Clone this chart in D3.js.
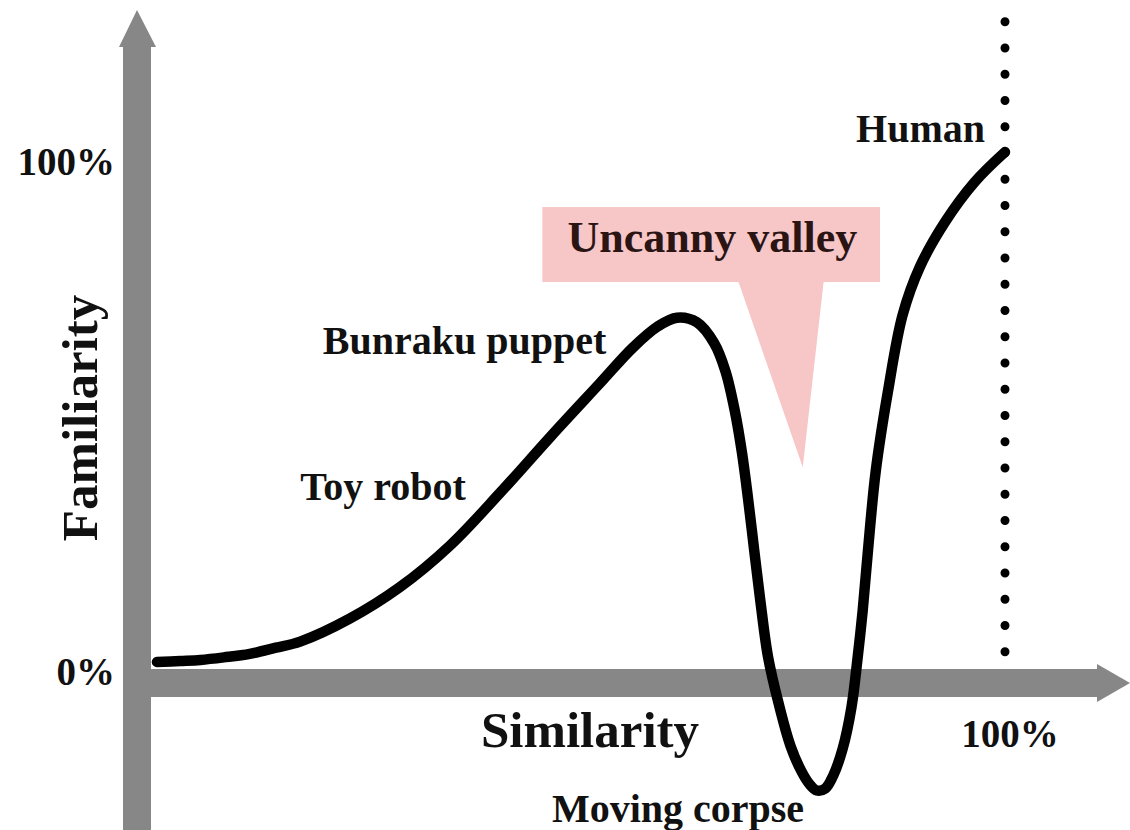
<!DOCTYPE html>
<html lang="en">
<head>
  <meta charset="UTF-8">
  <title>Uncanny valley</title>
  <style>
    body { margin: 0; background: #fff; }
    svg { display: block; }
    text { font-family: "Liberation Serif", "Times New Roman", serif; font-weight: bold; fill: #111; }
  </style>
</head>
<body>
  <svg width="1130" height="830"></svg>
  <script src="https://d3js.org/d3.v7.min.js"></script>
  <script>
    // similarity (%) vs familiarity (%)
    var similarity  = [2.3, 5.0, 7.3, 10.0, 13.0, 16.0, 18.8, 24.5, 30.3, 36.1, 41.9, 47.6, 53.3, 57.1, 60.0, 62.2, 64.5, 66.5, 67.8, 68.9, 69.7, 70.4, 71.1, 71.8, 72.7, 73.9, 75.3, 76.6, 77.5, 78.3, 79.3, 80.2, 81.3, 82.3, 83.0, 83.6, 84.2, 85.1, 86.5, 88.2, 90.2, 93.1, 96.5, 100];
    var familiarity = [0, 0.2, 0.4, 0.9, 1.6, 2.8, 4.0, 8.5, 14.7, 22.9, 33.3, 44.1, 54.6, 61.6, 65.8, 67.5, 66.6, 62.5, 57.0, 49.0, 41.0, 32.0, 22.0, 12.2, 1.0, -8.0, -16.5, -21.6, -24.0, -25.2, -24.8, -22.3, -17.0, -9.0, 0.5, 10.0, 21.6, 37.3, 52.9, 68.0, 77.5, 86.3, 94.1, 100];

    var yTicks = [0, 100], yTickLabels = ["0%", "100%"];
    var xTicks = [100], xTickLabels = ["100%"];

    var labelText = ["Toy robot", "Bunraku puppet", "Human", "Moving corpse"];
    var labelX    = [18.8, 21.4, 97.7, 47.8];
    var labelY    = [31.8, 60.4, 102.0, -31.4];

    var svg = d3.select("svg");

    var x = d3.scaleLinear().domain([0, 100]).range([137, 1005]),
        y = d3.scaleLinear().domain([0, 100]).range([662, 152]);

    var axisColor = "#878787";

    // y axis bar + arrow
    svg.append("rect")
      .attr("x", 123).attr("width", 28)
      .attr("y", 44).attr("height", 830 - 44)
      .attr("fill", axisColor);
    svg.append("path")
      .attr("d", "M137,10 L119,47 L156,47 Z")
      .attr("fill", axisColor);

    // x axis bar + arrow
    svg.append("rect")
      .attr("x", 123).attr("width", 1098 - 123)
      .attr("y", 669).attr("height", 28)
      .attr("fill", axisColor);
    svg.append("path")
      .attr("d", "M1130,683 L1097,664 L1097,702 Z")
      .attr("fill", axisColor);

    // callout
    var callout = svg.append("g").attr("fill", "#f7c6c6");
    callout.append("rect")
      .attr("x", x(46.7)).attr("y", y(89.2))
      .attr("width", x(85.6) - x(46.7))
      .attr("height", y(74.5) - y(89.2));
    callout.append("path")
      .attr("d", d3.line()([[x(69.3), y(74.5)], [x(79.1), y(74.5)], [x(76.7), y(38.2)]]) + "Z");
    svg.append("text")
      .attr("x", x(49.6)).attr("y", y(80.4))
      .style("font-size", "44px")
      .style("fill", "#2b1414")
      .text("Uncanny valley");

    // dotted human line
    svg.append("line")
      .attr("x1", x(100)).attr("x2", x(100))
      .attr("y1", y(2)).attr("y2", y(127))
      .attr("stroke", "#000")
      .attr("stroke-width", 9)
      .attr("stroke-linecap", "round")
      .attr("stroke-dasharray", "0 26.25");

    // curve
    var pts = similarity.map(function(s, i) { return [s, familiarity[i]]; });
    var line = d3.line()
      .curve(d3.curveCatmullRom.alpha(0.5))
      .x(function(d) { return x(d[0]); })
      .y(function(d) { return y(d[1]); });

    svg.append("path")
      .attr("d", line(pts))
      .attr("fill", "none")
      .attr("stroke", "#000")
      .attr("stroke-width", 10.5)
      .attr("stroke-linecap", "round")
      .attr("stroke-linejoin", "round");

    // tick labels
    svg.selectAll(".ytick")
      .data(yTicks)
      .enter().append("text")
      .attr("class", "ytick")
      .attr("x", 115)
      .attr("y", function(d) { return y(d) + 23; })
      .attr("text-anchor", "end")
      .style("font-size", "39px")
      .text(function(d, i) { return yTickLabels[i]; });

    svg.selectAll(".xtick")
      .data(xTicks)
      .enter().append("text")
      .attr("class", "xtick")
      .attr("x", function(d) { return x(d) + 5; })
      .attr("y", 747)
      .attr("text-anchor", "middle")
      .style("font-size", "39px")
      .text(function(d, i) { return xTickLabels[i]; });

    // axis titles
    svg.append("text")
      .attr("x", 590).attr("y", 747)
      .attr("text-anchor", "middle")
      .style("font-size", "51px")
      .text("Similarity");

    svg.append("text")
      .attr("transform", "translate(97,418) rotate(-90)")
      .attr("text-anchor", "middle")
      .style("font-size", "51px")
      .text("Familiarity");

    // point labels
    svg.selectAll(".lbl")
      .data(labelText)
      .enter().append("text")
      .attr("class", "lbl")
      .attr("x", function(d, i) { return x(labelX[i]); })
      .attr("y", function(d, i) { return y(labelY[i]); })
      .attr("text-anchor", function(d) { return d === "Human" ? "end" : "start"; })
      .style("font-size", "40px")
      .text(function(d) { return d; });
  </script>
</body>
</html>
